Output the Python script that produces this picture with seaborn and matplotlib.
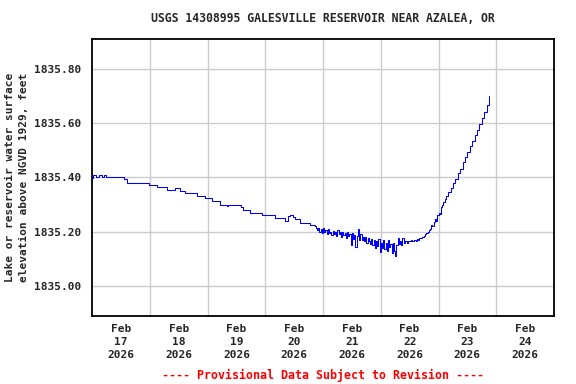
import pandas as pd
import numpy as np
import matplotlib
matplotlib.use("Agg")
import matplotlib.pyplot as plt
import matplotlib.dates as mdates
import seaborn as sns

# gage height readings, hours after 2026-02-17 00:00 and elevation (ft)
flat_hours = [0, 0.5, 1.5, 2.8, 4.2, 5.0, 5.8, 13.4, 14.7, 23.8, 27.0, 31.3, 34.6,
              36.6, 38.8, 43.6, 47.1, 50.0, 53.1, 56.0, 56.5, 61.9, 62.9, 65.7,
              70.5, 76.0, 80.2, 81.5, 82.3, 83.5, 84.4, 86.4, 90.6, 92.7]
flat_elev = [1835.397, 1835.408, 1835.400, 1835.408, 1835.400, 1835.408, 1835.400,
             1835.393, 1835.378, 1835.371, 1835.364, 1835.352, 1835.361,
             1835.351, 1835.344, 1835.333, 1835.325, 1835.314, 1835.300, 1835.295,
             1835.300, 1835.289, 1835.279, 1835.270, 1835.260, 1835.252, 1835.239,
             1835.258, 1835.262, 1835.255, 1835.245, 1835.233, 1835.226, 1835.221]

# noisy stretch, every half hour from hour 93 to 138
noisy_elev = [1835.212, 1835.205, 1835.214, 1835.200, 1835.210, 1835.196, 1835.212,
              1835.198, 1835.205, 1835.190, 1835.208, 1835.195, 1835.200, 1835.186,
              1835.203, 1835.192, 1835.198, 1835.184, 1835.205, 1835.190, 1835.197,
              1835.182, 1835.200, 1835.188, 1835.195, 1835.176, 1835.198, 1835.185,
              1835.190, 1835.150, 1835.195, 1835.172, 1835.188, 1835.145, 1835.185,
              1835.211, 1835.170, 1835.190, 1835.168, 1835.182, 1835.165, 1835.180,
              1835.160, 1835.178, 1835.165, 1835.155, 1835.172, 1835.150, 1835.170,
              1835.140, 1835.165, 1835.148, 1835.172, 1835.125, 1835.160, 1835.140,
              1835.168, 1835.135, 1835.158, 1835.130, 1835.170, 1835.145, 1835.155,
              1835.120, 1835.160, 1835.130, 1835.112, 1835.150, 1835.175, 1835.155,
              1835.165, 1835.150, 1835.175, 1835.160, 1835.165, 1835.165, 1835.160,
              1835.165, 1835.165, 1835.168, 1835.165, 1835.165, 1835.168, 1835.165,
              1835.172, 1835.170, 1835.175, 1835.178, 1835.180, 1835.182, 1835.185]
noisy_hours = [93 + 0.5 * i for i in range(len(noisy_elev))]

# rising limb
rise_hours = [138.5, 139.0, 139.5, 140.0, 140.5, 141.0, 141.5, 142.0, 142.5, 143.0,
              143.5, 144.0, 144.5, 145.0, 145.5, 146.0, 146.5, 147.0, 148.0, 149.0,
              150.0, 151.0, 152.0, 153.0, 154.0, 155.0, 156.0, 157.0, 158.0, 159.0,
              160.0, 161.0, 162.0, 163.0, 164.0, 165.0]
rise_elev = [1835.190, 1835.195, 1835.200, 1835.205, 1835.210, 1835.225, 1835.220,
             1835.235, 1835.245, 1835.240, 1835.260, 1835.270, 1835.265, 1835.290,
             1835.300, 1835.310, 1835.320, 1835.330, 1835.345, 1835.360, 1835.380,
             1835.395, 1835.415, 1835.430, 1835.455, 1835.475, 1835.495, 1835.515,
             1835.535, 1835.555, 1835.575, 1835.595, 1835.620, 1835.640, 1835.668,
             1835.700]

day_labels = ["Feb\n17\n2026", "Feb\n18\n2026", "Feb\n19\n2026", "Feb\n20\n2026",
              "Feb\n21\n2026", "Feb\n22\n2026", "Feb\n23\n2026", "Feb\n24\n2026"]
y_ticks = [1835.00, 1835.20, 1835.40, 1835.60, 1835.80]

start = pd.Timestamp("2026-02-17 00:00")
hours = flat_hours + noisy_hours + rise_hours
df = pd.DataFrame({
    "time": start + pd.to_timedelta(hours, unit="h"),
    "elev": flat_elev + noisy_elev + rise_elev,
})

sns.set_style("white")
plt.rcParams["font.family"] = ["DejaVu Sans Mono"]
plt.rcParams["font.weight"] = "bold"

fig = plt.figure(figsize=(5.76, 3.84), dpi=100)
ax = fig.add_axes([92 / 576, 1 - 316 / 384, 462 / 576, 277 / 384])

sns.lineplot(data=df, x="time", y="elev", ax=ax, color="#0000ff", linewidth=0.75,
             drawstyle="steps-post", estimator=None)

ax.set_xlim(start, start + pd.Timedelta(days=8))
ax.set_ylim(1834.8894, 1835.9095)

# gridlines at midnight, labels at noon
midnights = [start + pd.Timedelta(days=i) for i in range(1, 8)]
noons = [start + pd.Timedelta(hours=12 + 24 * i) for i in range(8)]
ax.set_xticks(midnights, minor=True)
ax.set_xticks(noons)
ax.set_xticklabels(day_labels, fontsize=8, fontweight="bold", linespacing=1.35)
ax.set_yticks(y_ticks)
ax.set_yticklabels([f"{v:.2f}" for v in y_ticks], fontsize=8, fontweight="bold")
ax.tick_params(axis="both", which="both", length=0)
ax.tick_params(axis="y", pad=8)
ax.tick_params(axis="x", pad=6)
ax.grid(True, axis="x", which="minor", color="#cccccc", linewidth=1)
ax.grid(True, axis="y", which="major", color="#cccccc", linewidth=1)
ax.grid(False, axis="x", which="major")
for s in ax.spines.values():
    s.set_color("black")
    s.set_linewidth(1.3)

ax.set_xlabel("")
ax.set_ylabel("Lake or reservoir water surface\nelevation above NGVD 1929, feet",
              fontsize=8, fontweight="bold", linespacing=1.55, labelpad=3)

fig.text(323 / 576, 1 - 19 / 384, "USGS 14308995 GALESVILLE RESERVOIR NEAR AZALEA, OR",
         ha="center", va="center", fontsize=8.3, fontweight="bold")
fig.text(323 / 576, 1 - 375 / 384, "---- Provisional Data Subject to Revision ----",
         ha="center", va="center", fontsize=8.4, fontweight="bold", color="red")

fig.savefig("out.png", dpi=100)
